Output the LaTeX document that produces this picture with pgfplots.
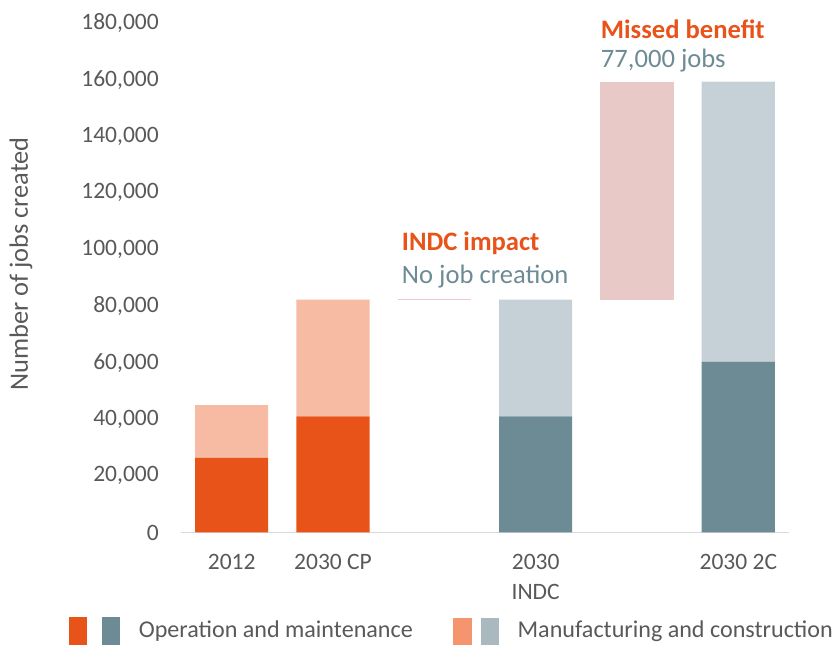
\documentclass[border=0pt]{standalone}
\usepackage{fontspec}
\setmainfont{Carlito}
\usepackage{pgfplots}
\pgfplotsset{compat=1.18}
\usepackage{pgfplotstable}
\definecolor{cOr}{HTML}{E8531A}
\definecolor{cOrL}{HTML}{F7BAA3}
\definecolor{cSl}{HTML}{6D8B94}
\definecolor{cSlL}{HTML}{C5D1D6}
\definecolor{cPk}{HTML}{E8C9C8}
\definecolor{cPkL}{HTML}{F0C8CC}
\definecolor{cOrLeg}{HTML}{F4956F}
\definecolor{cSlLeg}{HTML}{A9B9BF}
\definecolor{cTx}{HTML}{595959}
\definecolor{cAx}{HTML}{D9D9D9}
\pgfplotstableread{
x omor omsl base mcor mcsl miss thin
0 26400 0 0 18600 0 0 0
1 41000 0 0 41300 0 0 0
2 0 0 82300 0 0 0 350
3 0 41000 0 0 41300 0 0
4 0 0 82300 0 0 77000 0
5 0 60400 0 0 98900 0 0
}\data
\begin{document}
\begin{tikzpicture}[font=\fontsize{11.75}{15}\selectfont]
\begin{axis}[
  scale only axis, width=304pt, height=254.75pt,
  xmin=-0.5, xmax=5.5, ymin=0, ymax=180000,
  ybar stacked, bar width=0.722,
  axis x line*=bottom, axis y line*=left,
  x axis line style={draw=cAx, line width=0.8pt, -},
  y axis line style={draw=none},
  xtick={0,1,3,5}, xticklabels={2012,2030 CP,{2030\\INDC},2030 2C},
  xticklabel style={align=center, text=cTx, yshift=-7.5pt},
  ytick={0,20000,40000,60000,80000,100000,120000,140000,160000,180000},
  yticklabels={0,{20,000},{40,000},{60,000},{80,000},{100,000},{120,000},{140,000},{160,000},{180,000}},
  major tick length=0pt,
  scaled y ticks=false,
  yticklabel style={text=cTx, xshift=-7.6pt},
  ylabel={Number of jobs created},
  ylabel style={at={(axis description cs:-0.263,0.527)}, anchor=center, text=cTx, font=\fontsize{13.2}{16}\selectfont},
  clip=false,
  legend columns=2,
  legend style={at={(axis description cs:-0.1842,-0.1933)}, anchor=west, draw=none, fill=none,
    inner sep=0pt, outer sep=0pt, font=\fontsize{12.05}{15}\selectfont, nodes={inner sep=0pt, text=cTx, anchor=west},
    /tikz/every odd column/.append style={column sep=9.5pt},
    /tikz/every even column/.append style={column sep=20pt}},
  legend cell align=left,
]
\addlegendimage{legend image code/.code={
  \fill[cOr] (0pt,-6.75pt) rectangle (8.5pt,6.75pt);
  \fill[cSl] (16.5pt,-6.75pt) rectangle (25pt,6.75pt);}}
\addlegendimage{legend image code/.code={
  \fill[cOrLeg] (0pt,-6.5pt) rectangle (9pt,6.5pt);
  \fill[cSlLeg] (14pt,-6.5pt) rectangle (22.5pt,6.5pt);}}
\addplot[fill=cOr, draw=none] table[x=x,y=omor]{\data};
\addplot[fill=cSl, draw=none] table[x=x,y=omsl]{\data};
\addplot[fill=none, draw=none] table[x=x,y=base]{\data};
\addplot[fill=cOrL, draw=none] table[x=x,y=mcor]{\data};
\addplot[fill=cSlL, draw=none] table[x=x,y=mcsl]{\data};
\addplot[fill=cPk, draw=none] table[x=x,y=miss]{\data};
\addplot[fill=cPkL, draw=none] table[x=x,y=thin]{\data};
\legend{Operation and maintenance, Manufacturing and construction}
\node[anchor=west, inner sep=0pt, font=\fontsize{13.3}{16}\selectfont\bfseries, text=cOr] at (axis cs:1.677,102300) {INDC impact};
\node[anchor=west, inner sep=0pt, font=\fontsize{13.3}{16}\selectfont, text=cSl] at (axis cs:1.677,90300) {No job creation};
\node[anchor=west, inner sep=0pt, font=\fontsize{13.3}{16}\selectfont\bfseries, text=cOr] at (axis cs:3.64,177900) {Missed benefit};
\node[anchor=west, inner sep=0pt, font=\fontsize{13.3}{16}\selectfont, text=cSl] at (axis cs:3.64,166600) {77,000 jobs};
\coordinate (bbll) at (axis description cs:-0.2977,-0.2228);
\coordinate (bbur) at (axis description cs:1.0724,1.0451);
\end{axis}
\pgfresetboundingbox
\path[use as bounding box] (bbll) rectangle (bbur);
\end{tikzpicture}
\end{document}
